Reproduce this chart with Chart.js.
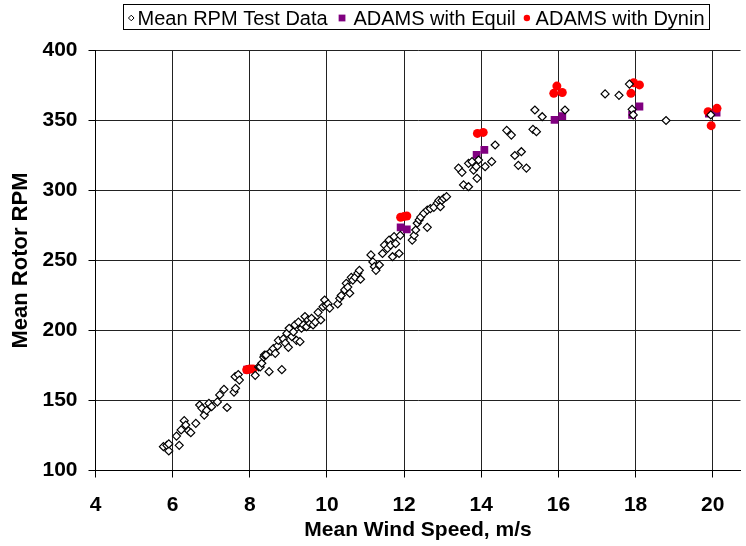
<!DOCTYPE html>
<html>
<head>
<meta charset="utf-8">
<script src="https://cdn.jsdelivr.net/npm/chart.js@4.4.1/dist/chart.umd.min.js"></script>
<style>
  html, body { margin: 0; padding: 0; background: #fff; }
  #c { display: block; }
</style>
</head>
<body>
<canvas id="c" width="746" height="546"></canvas>
<script>
// ---------------- data ----------------
const seriesNames = ['Mean RPM Test Data', 'ADAMS with Equil', 'ADAMS with Dynin'];
const xTitle = 'Mean Wind Speed, m/s';
const yTitle = 'Mean Rotor RPM';
const xTicks = [4, 6, 8, 10, 12, 14, 16, 18, 20];
const yTicks = [100, 150, 200, 250, 300, 350, 400];

const testWind = [
  5.76, 5.85, 5.90, 5.90, 6.10, 6.17, 6.22, 6.30, 6.34, 6.41, 6.47, 6.60, 6.70, 6.76, 6.82, 6.88, 6.94, 7.01,
  7.16, 7.22, 7.33, 7.41, 7.59, 7.63, 7.62, 7.70, 7.73, 8.14, 8.23, 8.27, 8.31, 8.36, 8.38, 8.42, 8.50, 8.55,
  8.61, 8.66, 8.72, 8.74, 8.83, 8.87, 8.92, 8.96, 9.00, 9.02, 9.09, 9.13, 9.17, 9.21, 9.26, 9.30, 9.34, 9.39,
  9.43, 9.47, 9.51, 9.56, 9.60, 9.64, 9.70, 9.77, 9.84, 9.90, 9.94, 9.98, 10.03, 10.07, 10.28, 10.33, 10.37,
  10.46, 10.50, 10.54, 10.59, 10.63, 10.67, 10.73, 10.80, 10.84, 10.87, 11.14, 11.19, 11.23, 11.27, 11.36,
  11.44, 11.49, 11.57, 11.61, 11.65, 11.70, 11.74, 11.78, 11.87, 11.90, 12.21, 12.26, 12.30, 12.34, 12.39,
  12.43, 12.51, 12.60, 12.60, 12.68, 12.77, 12.86, 12.90, 12.94, 12.98, 13.03, 13.10, 13.41, 13.50, 13.54,
  13.67, 13.67, 13.76, 13.80, 13.87, 13.89, 13.93, 14.10, 14.27, 14.36, 14.66, 14.78, 14.87, 14.96, 15.04,
  15.17, 15.34, 15.43, 15.39, 15.58, 16.17, 17.21, 17.57, 17.84, 17.91, 17.94, 18.79, 19.95
];
const testRpm = [
  117, 118, 114, 119, 124.6, 118, 129, 135.6, 132.5, 128.4, 127, 133.7, 146.8, 144.4, 139.6, 143, 148, 145.6,
  149, 154, 158, 145, 156, 158.7, 167, 168.5, 164.6, 168, 174, 174, 176.6, 181, 182.5, 182.5, 170.6, 185,
  187, 183.7, 189, 193, 172, 194, 191, 198, 188, 201.6, 195.6, 199, 204, 193, 206, 192, 201.6, 204,
  210, 202.7, 207.5, 205, 208.7, 204, 206, 213, 207.5, 217, 221.8, 218, 219, 216, 219, 223, 225,
  229, 233.7, 231, 226.6, 238, 236, 238, 241, 243, 236.6, 254, 249, 245.6, 243, 246.8,
  255, 261, 258.7, 264.6, 261, 252.7, 267, 262, 255, 268, 264.6, 268, 271.8, 276.6, 279,
  281, 283.7, 286, 273.7, 287, 288, 291, 293, 288.4, 293, 294.4, 295.6, 316, 313, 304,
  302.7, 319.4, 320.6, 314.6, 317, 308.7, 321.8, 317, 320.6, 332.5, 343, 339.6, 325, 318, 327.7,
  316, 343.7, 342, 357.5, 352.7, 357.5, 369, 368, 376, 358, 354, 350, 354
];

const equilWind = [7.93, 8.00, 11.91, 12.07, 13.88, 14.08, 15.90, 16.10, 17.91, 18.10, 19.90, 20.10];
const equilRpm  = [172, 172.5, 273.7, 272.3, 325.4, 329, 350.4, 353.2, 354, 360, 355, 355.6];

const dyninWind = [7.92, 8.00, 8.08, 11.91, 12.00, 12.07, 13.90, 14.05, 15.88, 15.96, 16.10, 17.88, 17.95, 18.10, 19.88, 19.96, 20.11];
const dyninRpm  = [172, 172.5, 172.5, 280.9, 281.5, 281.8, 340.8, 341.5, 369.4, 374.6, 370, 369.4, 377, 375.4, 356.3, 346.3, 358.7];

// ---------------- chart ----------------
const FAMILY = "'Liberation Sans', Arial, Helvetica, sans-serif";
const toPts = (xs, ys) => xs.map((x, i) => ({ x: x, y: ys[i] }));

const legendBox = {
  id: 'legendBox',
  afterDraw(chart) {
    const ctx = chart.ctx;
    ctx.save();
    ctx.font = '20px ' + FAMILY;
    ctx.textBaseline = 'alphabetic';
    ctx.textAlign = 'left';
    const w = seriesNames.map(t => ctx.measureText(t).width);
    const padL = 5.5, padR = 4.5;
    const m1 = 5.6, g1 = 3.5, m2 = 6.8, g2 = 8, m3 = 6.4, g3 = 5.5, gapA = 11, gapB = 8;
    const total = padL + m1 + g1 + w[0] + gapA + m2 + g2 + w[1] + gapB + m3 + g3 + w[2] + padR;
    const center = 416;
    const left = center - total / 2;
    const top = 4.5, bottom = 29.5, baseY = 25, midY = 18;
    const styles = [
      { pointStyle: 'rectRot', radius: 2.8, borderWidth: 1, fill: '#ffffff', stroke: '#000000' },
      { pointStyle: 'rect', radius: 4.8, borderWidth: 0, fill: '#800080', stroke: '#800080' },
      { pointStyle: 'circle', radius: 3.2, borderWidth: 0, fill: '#ff0000', stroke: '#ff0000' }
    ];
    const widths = [m1, m2, m3], gaps = [g1, g2, g3], after = [gapA, gapB, 0];
    let x = left + padL;
    for (let i = 0; i < 3; i++) {
      const s = styles[i];
      ctx.fillStyle = s.fill;
      ctx.strokeStyle = s.stroke;
      ctx.lineWidth = s.borderWidth;
      Chart.helpers.drawPoint(ctx, { pointStyle: s.pointStyle, radius: s.radius, rotation: 0, borderWidth: s.borderWidth }, x + widths[i] / 2, midY);
      x += widths[i] + gaps[i];
      ctx.fillStyle = '#000';
      ctx.fillText(seriesNames[i], x, baseY);
      x += w[i] + after[i];
    }
    ctx.strokeStyle = '#000';
    ctx.lineWidth = 1;
    ctx.strokeRect(Math.round(left) + 0.5, top, Math.round(total), bottom - top);
    ctx.restore();
  }
};

new Chart(document.getElementById('c'), {
  type: 'scatter',
  data: {
    datasets: [
      {
        label: seriesNames[0],
        data: toPts(testWind, testRpm),
        pointStyle: 'rectRot',
        pointRadius: 4,
        pointBorderWidth: 1.2,
        borderColor: '#000000',
        backgroundColor: '#ffffff',
        order: 0
      },
      {
        label: seriesNames[1],
        data: toPts(equilWind, equilRpm),
        pointStyle: 'rect',
        pointRadius: 5.5,
        pointBorderWidth: 0,
        borderColor: '#800080',
        backgroundColor: '#800080',
        order: 2
      },
      {
        label: seriesNames[2],
        data: toPts(dyninWind, dyninRpm),
        pointStyle: 'circle',
        pointRadius: 4.5,
        pointBorderWidth: 0,
        borderColor: '#ff0000',
        backgroundColor: '#ff0000',
        order: 1
      }
    ]
  },
  options: {
    responsive: false,
    animation: false,
    devicePixelRatio: 1,
    layout: { padding: { top: 50.5, left: 0, right: 0, bottom: 0 } },
    plugins: {
      legend: { display: false },
      tooltip: { enabled: false }
    },
    scales: {
      x: {
        type: 'linear',
        min: 4,
        max: 20.72,
        afterBuildTicks: s => { s.ticks = xTicks.map(v => ({ value: v })); },
        afterFit: s => { s.height = 75.5; },
        grid: { color: '#222222', lineWidth: 1, tickLength: 7, drawTicks: true, tickColor: '#000' },
        border: { color: '#000000', width: 1 },
        ticks: {
          padding: 15,
          color: '#000',
          maxRotation: 0,
          font: { family: FAMILY, size: 21, weight: 'bold' },
          callback: v => String(v)
        },
        title: {
          display: true,
          text: xTitle,
          color: '#000',
          font: { family: FAMILY, size: 21, weight: 'bold' },
          padding: { top: 0, bottom: 3 }
        }
      },
      y: {
        type: 'linear',
        min: 100,
        max: 400,
        afterBuildTicks: s => { s.ticks = yTicks.map(v => ({ value: v })); },
        afterFit: s => { s.width = 95.5; },
        grid: { color: '#222222', lineWidth: 1, tickLength: 7, drawTicks: true, tickColor: '#000' },
        border: { color: '#000000', width: 1 },
        ticks: {
          padding: 11,
          color: '#000',
          font: { family: FAMILY, size: 21, weight: 'bold' },
          callback: v => String(v)
        },
        title: {
          display: true,
          text: yTitle,
          color: '#000',
          font: { family: FAMILY, size: 22, weight: 'bold' },
          padding: { top: 8, bottom: 0 }
        }
      }
    }
  },
  plugins: [legendBox]
});
</script>
</body>
</html>
